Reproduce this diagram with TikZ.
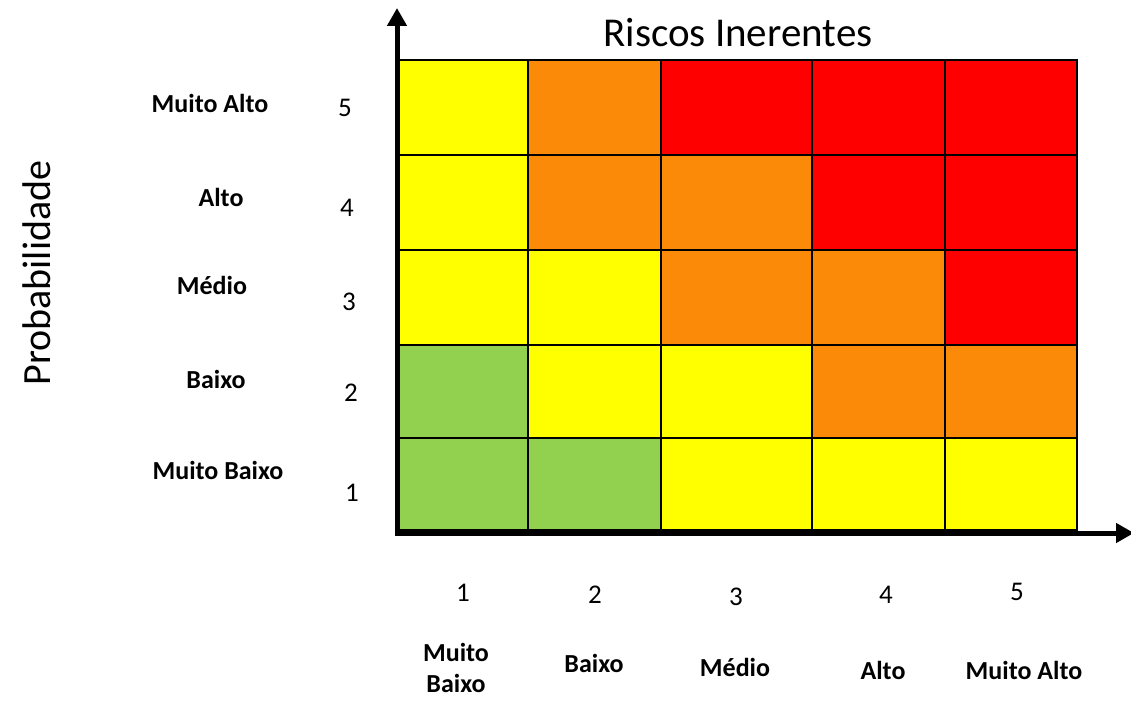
\documentclass[tikz,border=0pt]{standalone}
\usepackage{fontspec}
\setmainfont{Carlito}
\usetikzlibrary{arrows.meta}
\definecolor{cY}{HTML}{FFFF00}
\definecolor{cO}{HTML}{FA8A08}
\definecolor{cR}{HTML}{FF0000}
\definecolor{cG}{HTML}{92D050}
\begin{document}
\begin{tikzpicture}[x=1pt,y=-1pt,
  cell/.style={draw=black,line width=2.2pt},
  lab/.style={font=\fontsize{26}{28}\selectfont\bfseries,align=center,inner sep=0pt},
  num/.style={font=\fontsize{27}{29}\selectfont,inner sep=0pt},
  axis/.style={line width=5pt,-{Triangle[length=18pt,width=19pt]}}]
\useasboundingbox (0,0) rectangle (1131,701);
% grid
\def\xs{{398,528,661,812,945,1077}}
\def\ys{{60,155,250,345,438,530}}
\foreach \r/\cols in {0/{cY,cO,cR,cR,cR},1/{cY,cO,cO,cR,cR},2/{cY,cY,cO,cO,cR},3/{cG,cY,cY,cO,cO},4/{cG,cG,cY,cY,cY}}{
  \foreach \c [count=\i from 0] in \cols {
    \pgfmathsetmacro{\xa}{\xs[\i]}
    \pgfmathsetmacro{\xb}{\xs[\i+1]}
    \pgfmathsetmacro{\ya}{\ys[\r]}
    \pgfmathsetmacro{\yb}{\ys[\r+1]}
    \path[cell,fill=\c] (\xa,\ya) rectangle (\xb,\yb);
  }
}
% axes
\coordinate (o) at (397,533);
\coordinate (yt) at (397,8);
\coordinate (xt) at (1134,533);
\draw[axis] (397,535.5) -- (yt);
\draw[axis] (394.5,533) -- (xt);
% titles
\node[font=\fontsize{41}{43}\selectfont,inner sep=0pt] (title) at (738,33) {Riscos Inerentes};
\node[font=\fontsize{40}{42}\selectfont,inner sep=0pt,rotate=90] (ylab) at (37,273) {Probabilidade};
% left labels
\node[lab] (l5) at (210,103) {Muito Alto};
\node[lab] (l4) at (221,197) {Alto};
\node[lab] (l3) at (212,285) {Médio};
\node[lab] (l2) at (216,379) {Baixo};
\node[lab] (l1) at (218,470) {Muito Baixo};
\node[num] (n5) at (345,108) {5};
\node[num] (n4) at (347,208) {4};
\node[num] (n3) at (349,302) {3};
\node[num] (n2) at (351,393) {2};
\node[num] (n1) at (352,493) {1};
% bottom labels
\node[num] (b1) at (463,593) {1};
\node[num] (b2) at (595,595) {2};
\node[num] (b3) at (736,597) {3};
\node[num] (b4) at (886,595) {4};
\node[num] (b5) at (1017,592) {5};
\node[lab] (m1) at (456,668) {Muito\\[3pt]Baixo};
\node[lab] (m2) at (594,663) {Baixo};
\node[lab] (m3) at (735,667) {Médio};
\node[lab] (m4) at (883,670) {Alto};
\node[lab] (m5) at (1024,670) {Muito Alto};
\end{tikzpicture}
\end{document}
